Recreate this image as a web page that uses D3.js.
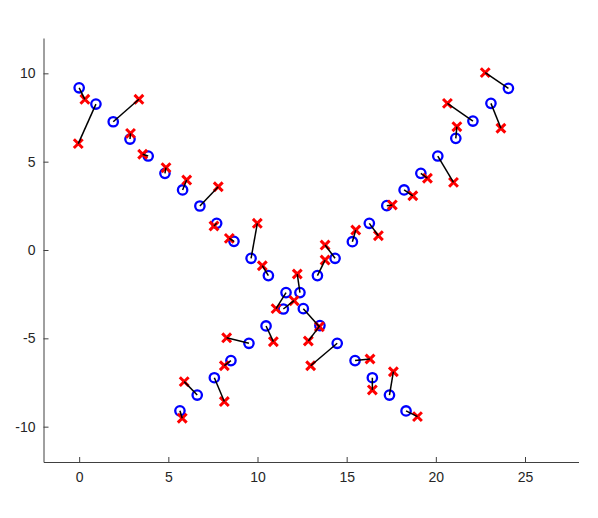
<!DOCTYPE html>
<html>
<head>
<meta charset="utf-8">
<script src="https://cdn.jsdelivr.net/npm/d3@7"></script>
<style>
html,body{margin:0;padding:0;background:#fff;}
svg{display:block;}
.axis text{font-family:"Liberation Sans",Arial,Helvetica,sans-serif;font-size:14px;fill:#262626;}
.axis path,.axis line{stroke:#404040;stroke-width:1;}
</style>
</head>
<body>
<svg id="chart" width="598" height="518"></svg>
<script>
// Blue circles (x, y)
const blueX = [0.00,0.94,1.91,2.85,3.87,4.81,5.80,6.77,7.71,8.68,9.64,10.61,11.60,11.45,12.38,12.57,13.50,14.35,13.36,10.48,
               9.52,8.51,7.58,6.62,5.65,14.47,15.47,16.44,17.40,18.33,24.07,23.09,22.08,21.12,20.11,19.16,18.22,17.25,16.27,15.32];
const blueY = [9.18,8.26,7.26,6.28,5.32,4.34,3.40,2.49,1.51,0.49,-0.47,-1.45,-2.41,-3.34,-2.41,-3.32,-4.28,-0.47,-1.45,-4.30,
               -5.28,-6.26,-7.23,-8.21,-9.10,-5.28,-6.26,-7.23,-8.21,-9.11,9.15,8.30,7.30,6.32,5.32,4.34,3.40,2.51,1.51,0.47];
// Red crosses (x, y), paired with blue by index
const redX  = [0.32,-0.05,3.35,2.88,3.56,4.87,6.03,7.80,7.56,8.42,9.99,10.27,11.04,12.05,12.23,13.47,12.85,13.79,13.79,10.89,
               8.27,8.14,8.14,5.89,5.78,12.98,16.31,16.44,17.62,18.97,22.77,23.65,20.65,21.18,20.99,19.53,18.71,17.56,16.78,15.51];
const redY  = [8.53,6.02,8.53,6.60,5.42,4.66,3.96,3.58,1.36,0.66,1.51,-0.89,-3.32,-2.87,-1.36,-4.34,-5.15,0.28,-0.57,-5.19,
               -4.97,-6.55,-8.58,-7.45,-9.52,-6.55,-6.17,-7.92,-6.89,-9.43,10.04,6.89,8.30,6.98,3.83,4.06,3.07,2.55,0.81,1.13];
// Axes
const xDomain = [-2, 28];
const yDomain = [-12, 12];
const xTicks = [0, 5, 10, 15, 20, 25];
const yTicks = [-10, -5, 0, 5, 10];

const svg = d3.select("#chart");
const pLeft = 43.5, pRight = 578.5, pTop = 38, pBottom = 462;
const x = d3.scaleLinear().domain(xDomain).range([pLeft, pRight]);
const y = d3.scaleLinear().domain(yDomain).range([pBottom, pTop]);
const fmt = d => String(d);

svg.append("g").attr("class","axis")
  .attr("transform",`translate(0,${pBottom})`)
  .call(d3.axisBottom(x).tickValues(xTicks).tickFormat(fmt).tickSizeInner(-5).tickSizeOuter(0).tickPadding(10));
svg.append("g").attr("class","axis")
  .attr("transform",`translate(${pLeft},0)`)
  .call(d3.axisLeft(y).tickValues(yTicks).tickFormat(fmt).tickSizeInner(-5).tickSizeOuter(0).tickPadding(8));

const idx = d3.range(blueX.length);

// Blue circles
svg.append("g").selectAll("circle").data(idx).join("circle")
  .attr("cx", i => x(blueX[i])).attr("cy", i => y(blueY[i])).attr("r", 4.7)
  .attr("fill","none").attr("stroke","#0000ff").attr("stroke-width",2.3);

// Red crosses
const s = 4.4;
svg.append("g").selectAll("path").data(idx).join("path")
  .attr("d", i => {
    const cx = x(redX[i]), cy = y(redY[i]);
    return `M${cx-s},${cy-s}L${cx+s},${cy+s}M${cx-s},${cy+s}L${cx+s},${cy-s}`;
  })
  .attr("fill","none").attr("stroke","#ff0000").attr("stroke-width",3);

// Connecting lines
svg.append("g").selectAll("line").data(idx).join("line")
  .attr("x1", i => x(blueX[i])).attr("y1", i => y(blueY[i]))
  .attr("x2", i => x(redX[i])).attr("y2", i => y(redY[i]))
  .attr("stroke","#000").attr("stroke-width",1.5);
</script>
</body>
</html>
